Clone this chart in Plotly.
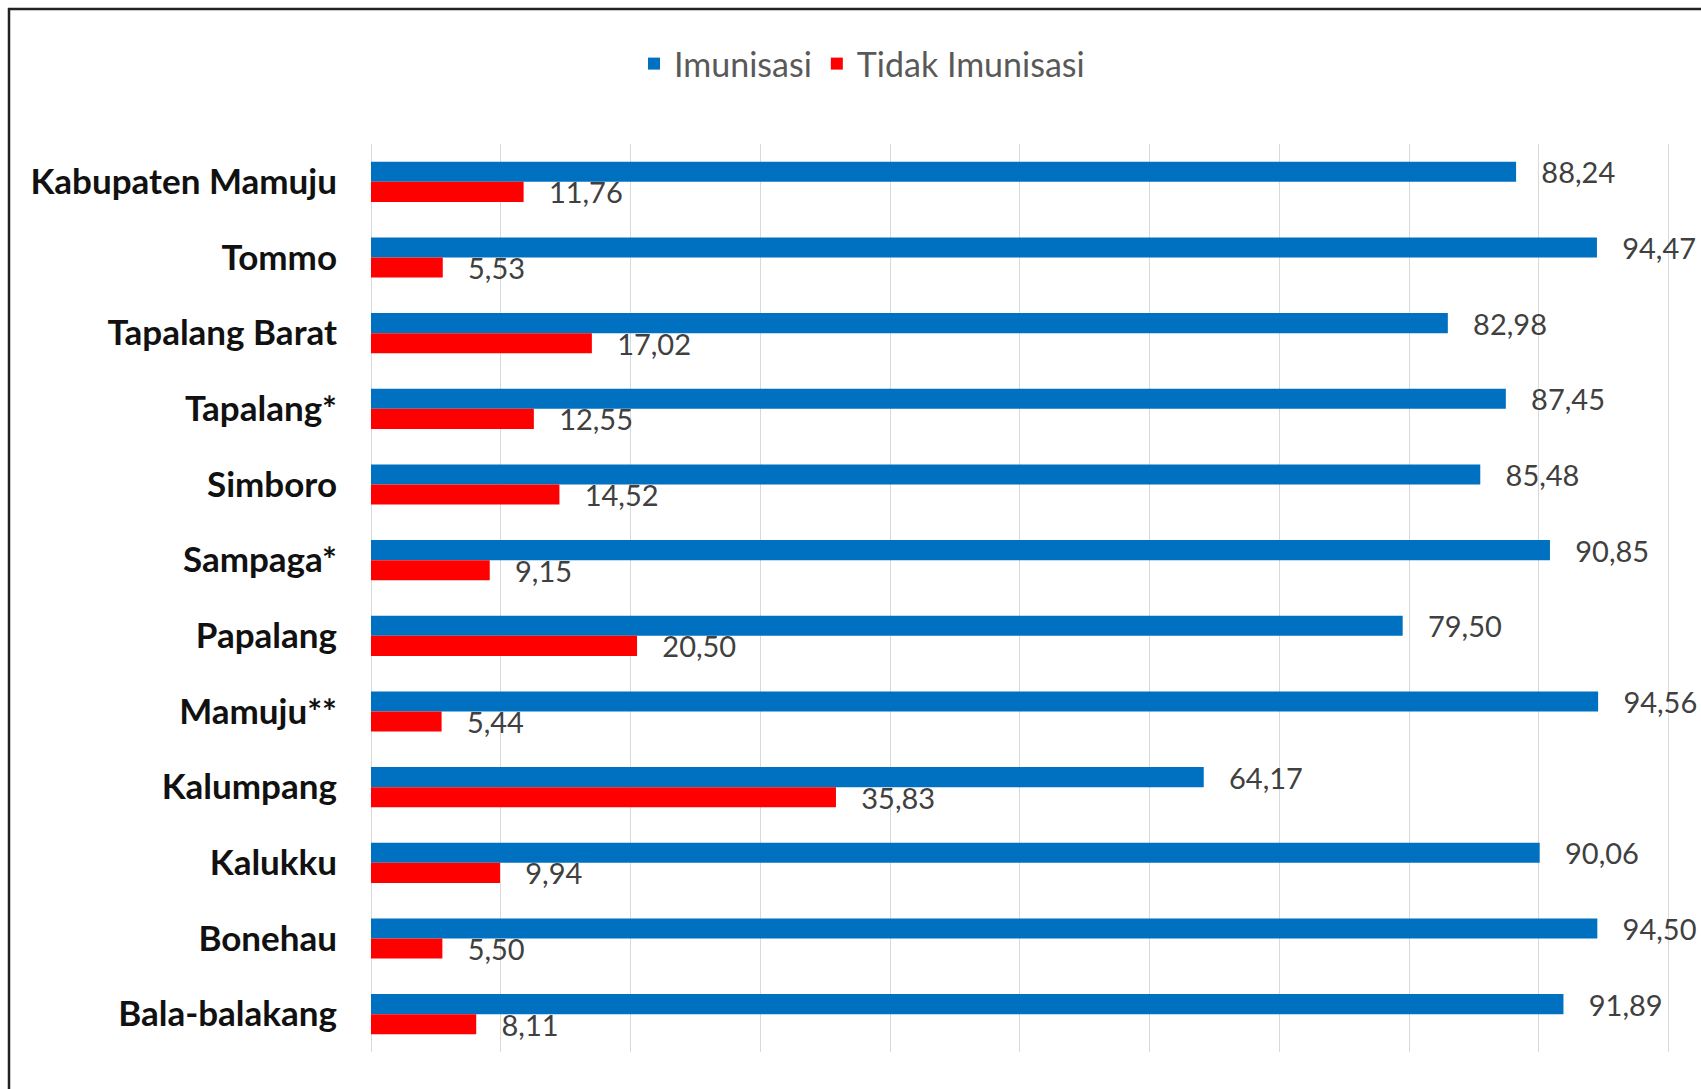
import plotly.graph_objects as go

categories = ["Kabupaten Mamuju", "Tommo", "Tapalang Barat", "Tapalang*", "Simboro",
              "Sampaga*", "Papalang", "Mamuju**", "Kalumpang", "Kalukku", "Bonehau",
              "Bala-balakang"]
imunisasi = [88.24, 94.47, 82.98, 87.45, 85.48, 90.85, 79.50, 94.56, 64.17, 90.06, 94.50, 91.89]
tidak_imunisasi = [11.76, 5.53, 17.02, 12.55, 14.52, 9.15, 20.50, 5.44, 35.83, 9.94, 5.50, 8.11]
series_names = ["Imunisasi", "Tidak Imunisasi"]
colors = ["#0070C0", "#FF0000"]

W, H = 1701, 1089
L, T = 371, 144
R, B = 31, 37
PW, PH = W - L - R, H - T - B

def fmt(v):
    return "\u00a0\u00a0\u00a0" + f"{v:.2f}".replace(".", ",")

fig = go.Figure()
for name, vals, col in zip(series_names, [imunisasi, tidak_imunisasi], colors):
    fig.add_trace(go.Bar(
        y=categories, x=vals, name=name, orientation="h",
        marker=dict(color=col, line=dict(width=0)),
        text=[fmt(v) for v in vals], textposition="outside",
        textfont=dict(family="Lato", size=29, color="#404040"),
        constraintext="none", cliponaxis=False,
    ))

def px_x(p):
    return (p - L) / PW

def px_y(p):
    return 1 - (p - T) / PH

fig.update_layout(
    width=W, height=H,
    margin=dict(l=L, r=R, t=T, b=B),
    paper_bgcolor="white", plot_bgcolor="white",
    barmode="group", bargap=0.47, bargroupgap=0,
    font=dict(family="Lato"),
    legend=dict(orientation="h", xref="container", yref="container",
                x=862 / W, y=1 - 64 / H, xanchor="center", yanchor="middle",
                font=dict(family="Lato", size=34, color="#595959"),
                itemwidth=30, traceorder="normal"),
    xaxis=dict(range=[0, 100.1], tickvals=[0, 10, 20, 30, 40, 50, 60, 70, 80, 90, 100],
               showticklabels=False,
               showgrid=True, gridcolor="#D9D9D9", gridwidth=1,
               zeroline=True, zerolinecolor="#D9D9D9", zerolinewidth=1,
               showline=False, fixedrange=True),
    yaxis=dict(autorange="reversed", showgrid=False, showline=False,
               ticks="", ticklabelstandoff=33,
               tickfont=dict(family="Lato", size=35, color="#111111", weight="bold")),
    shapes=[
        dict(type="line", xref="paper", yref="paper",
             x0=px_x(8), x1=px_x(W + 5), y0=px_y(9), y1=px_y(9),
             line=dict(color="#222222", width=2.5)),
        dict(type="line", xref="paper", yref="paper",
             x0=px_x(9), x1=px_x(9), y0=px_y(8), y1=px_y(H + 5),
             line=dict(color="#222222", width=2.5)),
    ],
)

fig.write_html("out.html", config={"displayModeBar": False},
               post_script="document.body.style.margin='0';document.body.style.overflow='hidden';")
